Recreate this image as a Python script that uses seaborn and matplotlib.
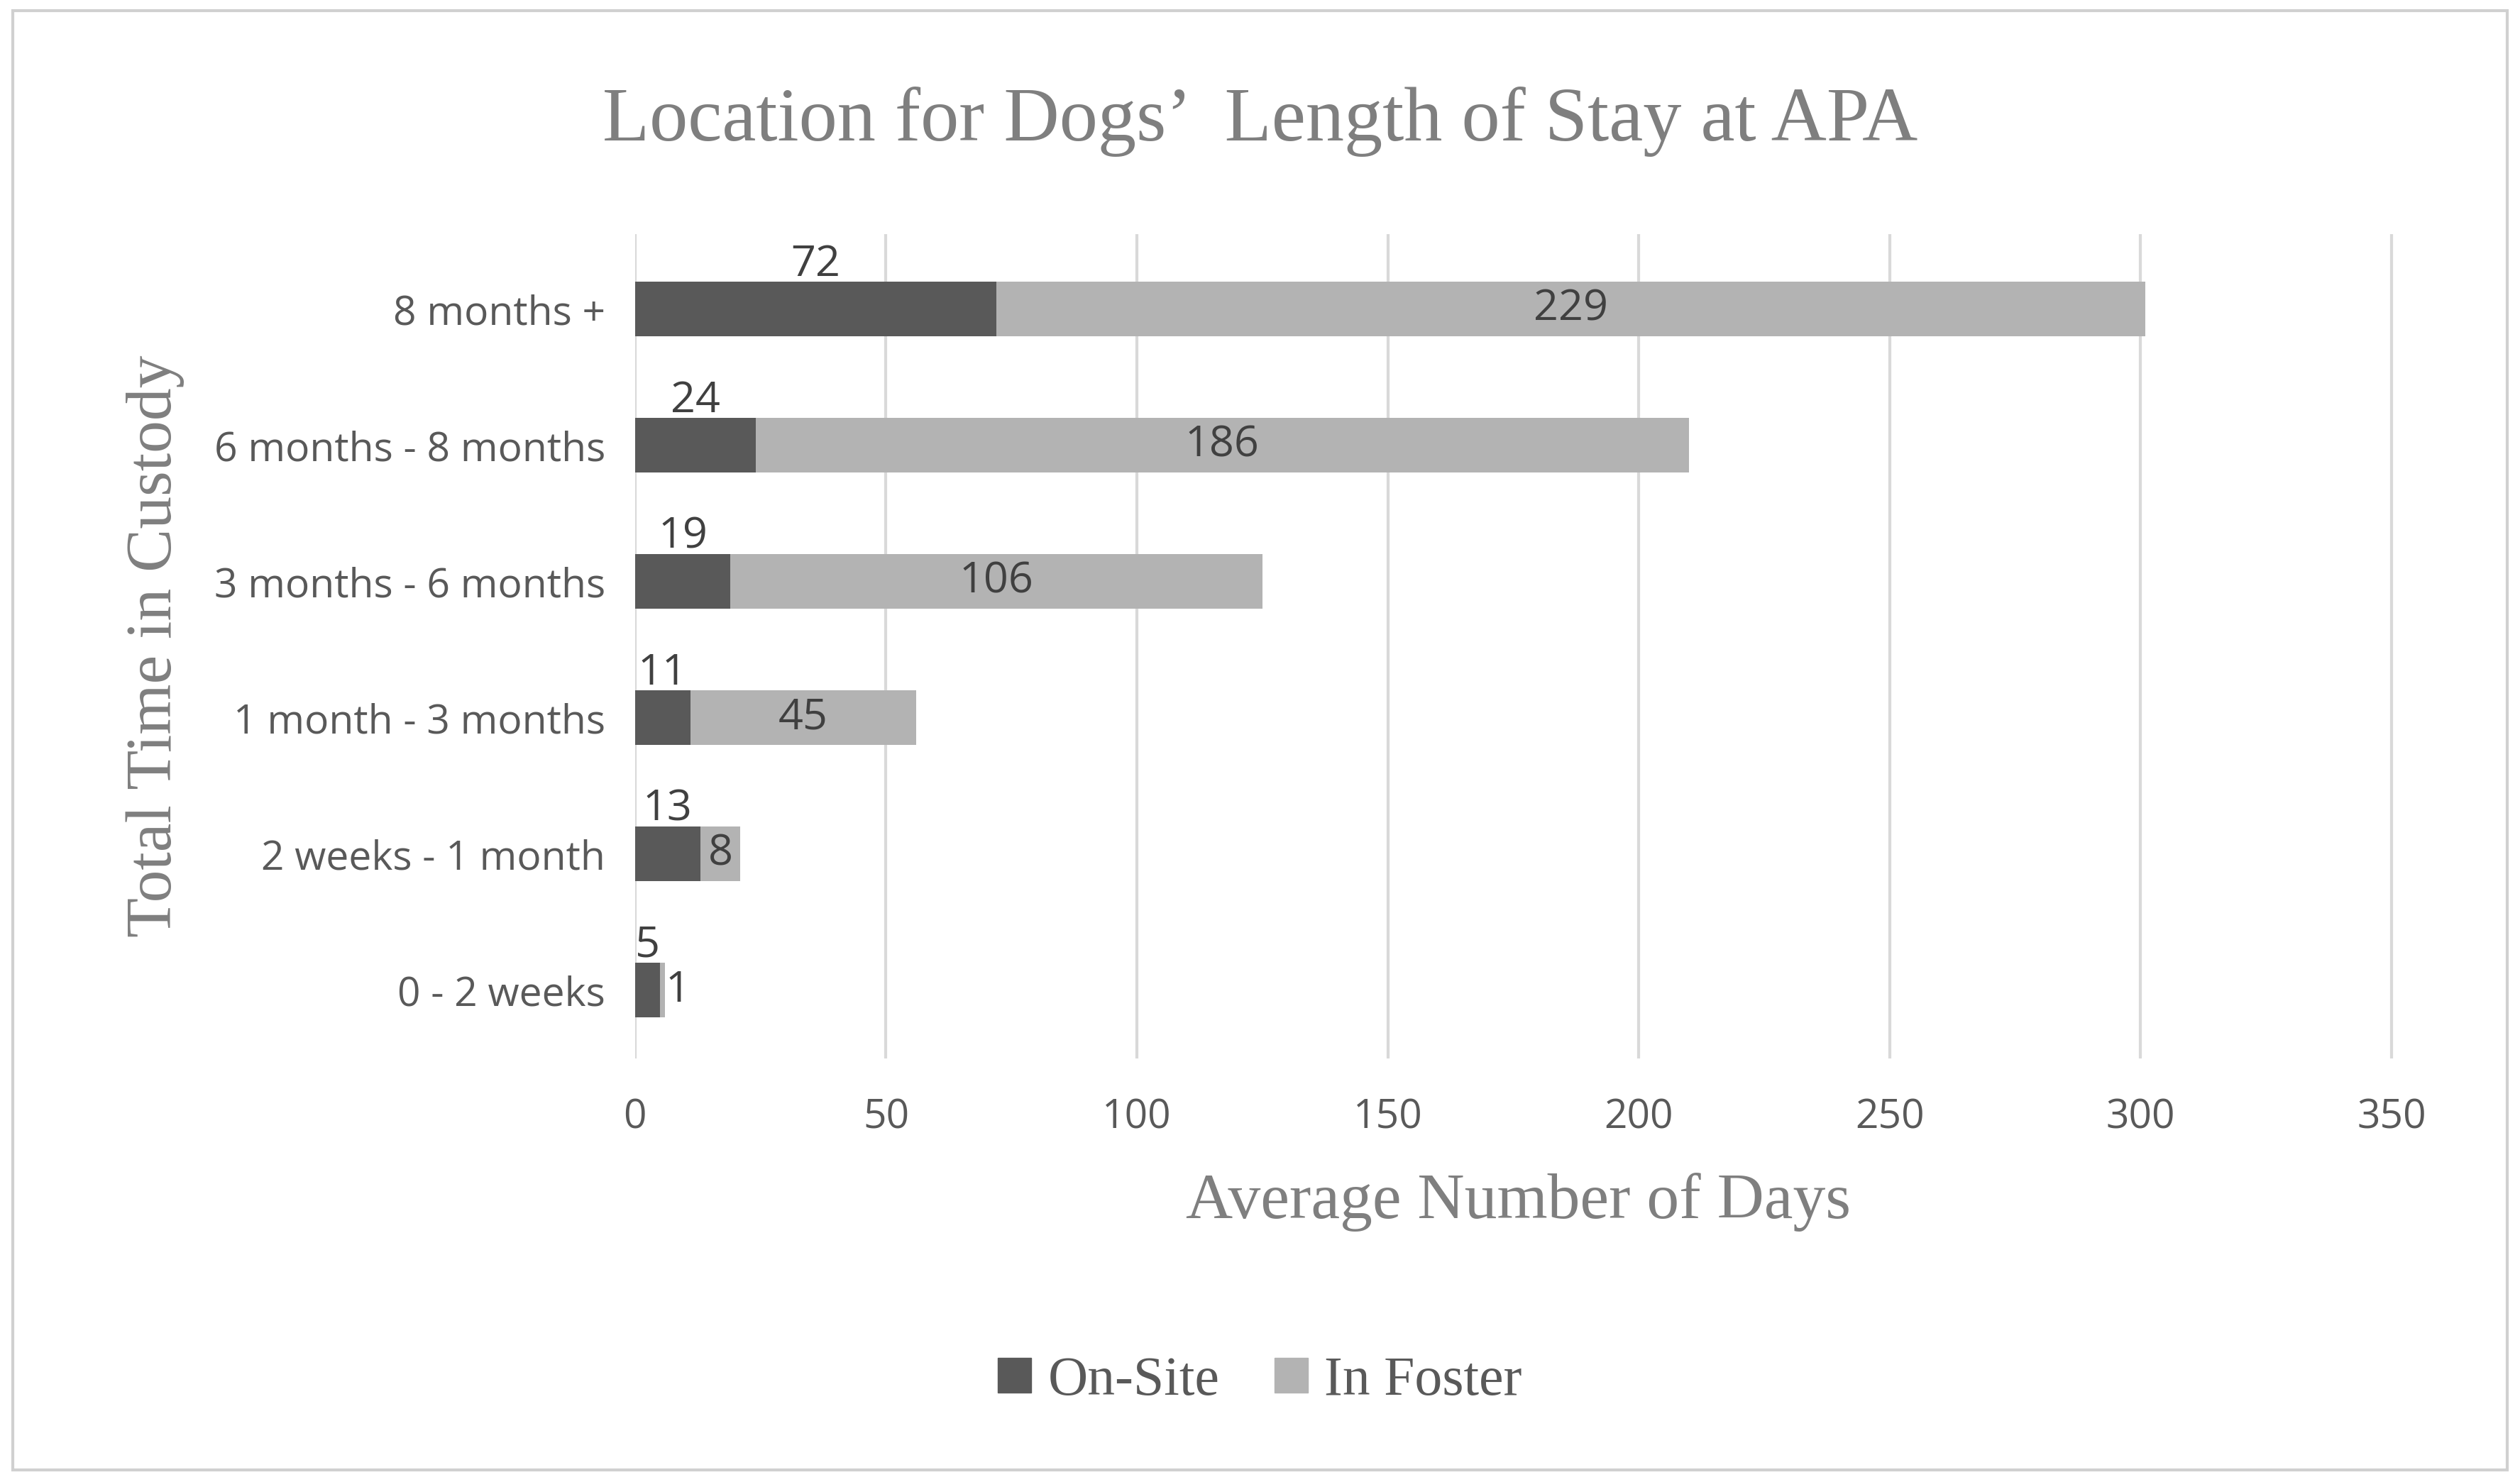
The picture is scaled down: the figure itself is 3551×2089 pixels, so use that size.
import matplotlib
matplotlib.use("Agg")
import matplotlib.pyplot as plt
import seaborn as sns
import pandas as pd
from matplotlib.patches import Rectangle, Patch

categories = ["8 months +", "6 months - 8 months", "3 months - 6 months",
              "1 month - 3 months", "2 weeks - 1 month", "0 - 2 weeks"]
on_site = [72, 24, 19, 11, 13, 5]
in_foster = [229, 186, 106, 45, 8, 1]
xticks = [0, 50, 100, 150, 200, 250, 300, 350]

df = pd.DataFrame({"cat": categories, "on": on_site, "foster": in_foster})
df["total"] = df["on"] + df["foster"]

dark, light = "#595959", "#b3b3b3"
sans, serif = "Open Sans", "Liberation Serif"

fig = plt.figure(figsize=(35.51, 20.89), dpi=100)
fig.patches.append(Rectangle((0.005, 0.008), 0.99, 0.985, transform=fig.transFigure,
                             fill=False, edgecolor="#d0d0d0", linewidth=3))
ax = fig.add_axes([0.252, 0.286, 0.701, 0.556])
sns.barplot(data=df, x="total", y="cat", color=light, width=0.4, ax=ax,
            saturation=1, orient="h", zorder=3)
sns.barplot(data=df, x="on", y="cat", color=dark, width=0.4, ax=ax,
            saturation=1, orient="h", zorder=4)

for i, (o, f) in enumerate(zip(on_site, in_foster)):
    ax.text(o / 2, i - 0.17, str(o), ha="center", va="bottom", fontsize=44,
            family=sans, color="#404040", zorder=5)
    fx = o + f / 2 if f > 5 else o + f + 2.5
    ax.text(fx, i, str(f), ha="center", va="center", fontsize=44,
            family=sans, color="#404040", zorder=5)

ax.set_xlim(0, 352)
ax.set_xticks(xticks)
ax.set_ylim(5.5, -0.55)
ax.grid(axis="x", color="#d9d9d9", linewidth=3, zorder=0)
ax.set_axisbelow(True)
for s in ax.spines.values():
    s.set_visible(False)
ax.tick_params(length=0, labelsize=41, colors="#595959")
ax.tick_params(axis="x", pad=40)
ax.tick_params(axis="y", pad=30)
for lab in ax.get_xticklabels() + ax.get_yticklabels():
    lab.set_family(sans)
ax.set_xlabel("Average Number of Days", fontsize=66, family=serif, color="#7f7f7f", labelpad=35)
ax.set_ylabel("Total Time in Custody", fontsize=66, family=serif, color="#7f7f7f", labelpad=30)

fig.text(0.5, 0.905, "Location for Dogs\u2019  Length of Stay at APA", ha="center",
         fontsize=78, family=serif, color="#7f7f7f")
fig.legend(handles=[Patch(color=dark, label="On-Site"), Patch(color=light, label="In Foster")],
           loc="center", bbox_to_anchor=(0.5, 0.068), ncol=2, frameon=False,
           prop={"family": serif, "size": 56}, labelcolor="#595959",
           handlelength=0.6, handleheight=0.6, columnspacing=1.0, handletextpad=0.3)
fig.savefig("out.png", dpi=100)
